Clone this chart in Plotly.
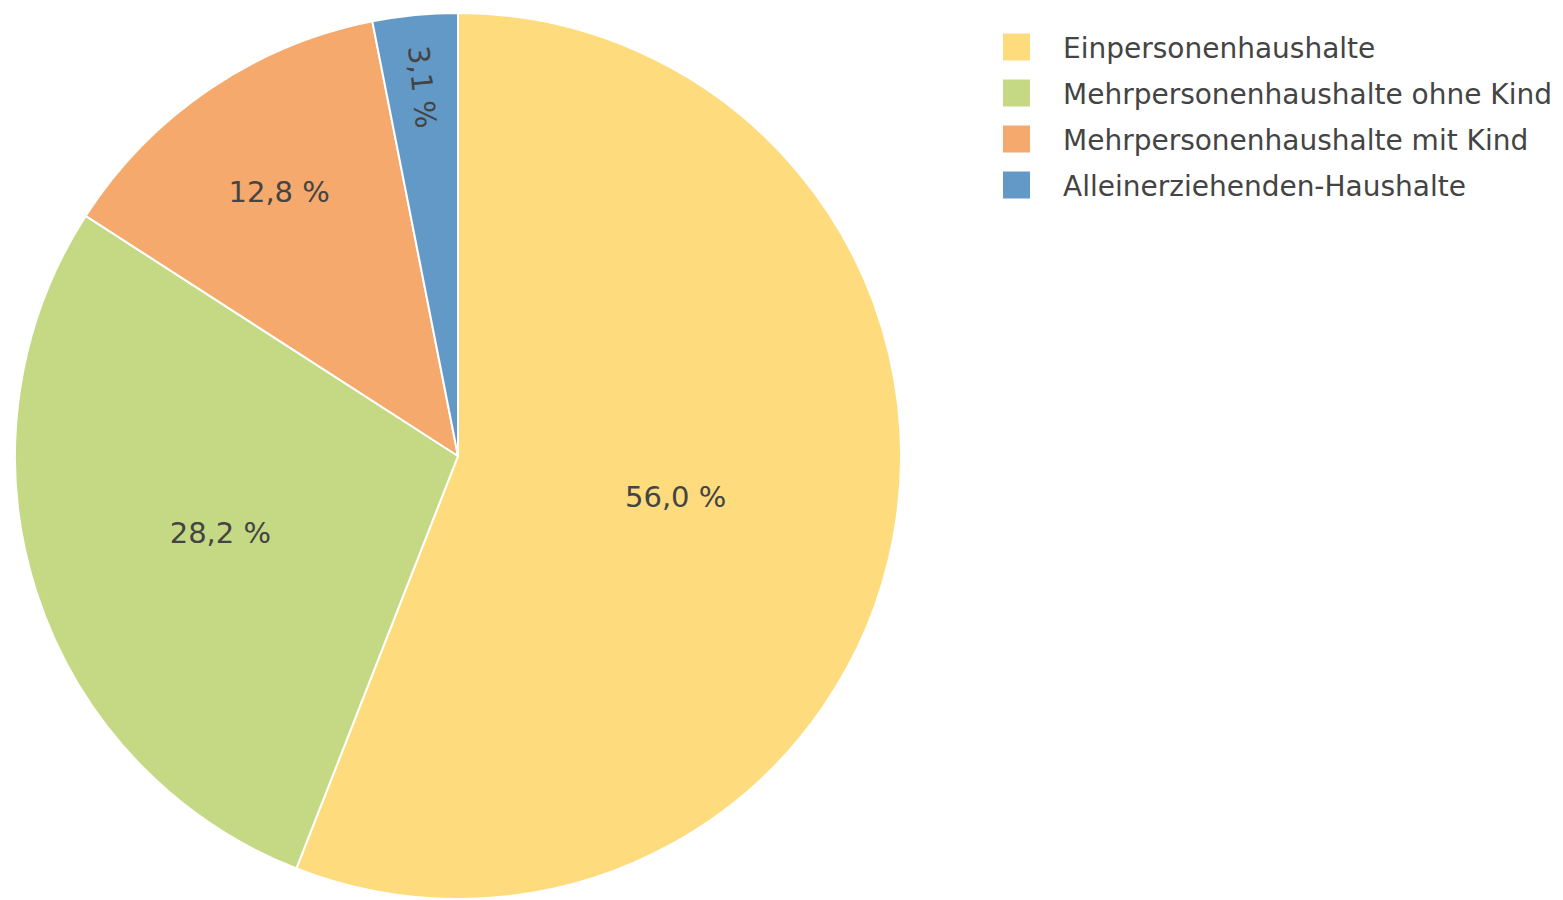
import plotly.graph_objects as go

# Haushaltsstruktur (Anteile in %)
labels = ["Einpersonenhaushalte", "Mehrpersonenhaushalte ohne Kind",
          "Mehrpersonenhaushalte mit Kind", "Alleinerziehenden-Haushalte"]
values = [56.0, 28.2, 12.8, 3.1]
colors = ["#FEDB7C", "#C5D985", "#F5A96C", "#6399C6"]

W, H = 1555, 892  # page body has an 8px margin

fig = go.Figure(go.Pie(
    labels=labels,
    values=values,
    sort=False,
    direction="clockwise",
    rotation=0,
    marker=dict(colors=colors, line=dict(color="white", width=2)),
    texttemplate="%{value:.1f} %",
    textposition="inside",
    insidetextorientation="auto",
    insidetextfont=dict(color="#444", size=29),
    domain=dict(x=[7 / W, 893 / W], y=[1 / H, 887 / H]),
    showlegend=False,
    hoverinfo="label+value",
))

# Legende mit großen Farbfeldern
for i, (lab, col) in enumerate(zip(labels, colors)):
    yc = 39 + i * 46
    fig.add_shape(type="rect", xref="paper", yref="paper",
                  x0=995 / W, x1=1022 / W,
                  y0=1 - (yc - 13.5) / H, y1=1 - (yc + 13.5) / H,
                  fillcolor=col, line=dict(width=0))
    fig.add_annotation(text=lab, xref="paper", yref="paper",
                       x=1053 / W, y=1 - (yc + 1.5) / H, xanchor="left", yanchor="middle",
                       showarrow=False, font=dict(size=28, color="#444"))

fig.update_layout(
    width=W, height=H,
    margin=dict(l=0, r=0, t=0, b=0),
    separators=", ",
    font=dict(family="DejaVu Sans, Verdana, sans-serif", size=28, color="#444"),
    paper_bgcolor="white",
)

fig.write_html("out.html")
